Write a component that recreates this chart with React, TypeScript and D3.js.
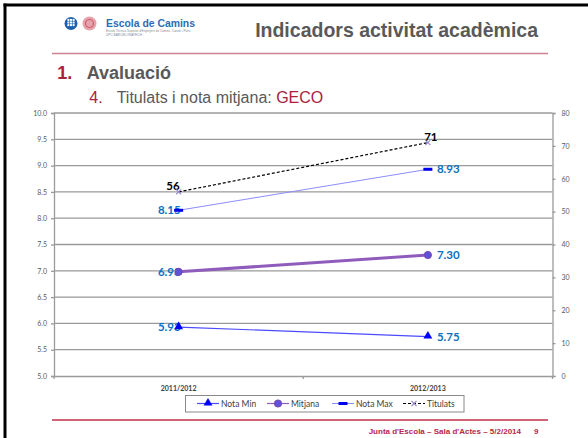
import React, { useEffect, useRef } from "react";
import * as d3 from "d3";

const categories = ["2011/2012", "2012/2013"];
const notaMin = [5.93, 5.75];
const mitjana = [6.98, 7.3];
const notaMax = [8.15, 8.93];
const titulats = [56, 71];
const leftTicks = [5, 5.5, 6, 6.5, 7, 7.5, 8, 8.5, 9, 9.5, 10];
const rightTicks = [0, 10, 20, 30, 40, 50, 60, 70, 80];
const legendNames = ["Nota Min", "Mitjana", "Nota Max", "Titulats"];

const W = 588;
const H = 438;
const CRIMSON = "#a8223e";
const GRAY = "#595959";
const CHART_FONT = "Lato, 'Liberation Sans', sans-serif";

const App = () => {
  const chartRef = useRef<SVGGElement | null>(null);

  useEffect(() => {
    const margin = { top: 113, right: 552.5, bottom: 376, left: 54 };

    // Clear previous content
    d3.select(chartRef.current).selectAll("*").remove();
    const g = d3.select(chartRef.current);

    const x = d3
      .scaleBand()
      .domain(categories)
      .range([margin.left, margin.right]);
    const xc = (c: string) => x(c)! + x.bandwidth() / 2;

    const yL = d3.scaleLinear().domain([5, 10]).range([margin.bottom, margin.top]);
    const yR = d3.scaleLinear().domain([0, 80]).range([margin.bottom, margin.top]);

    const axisColor = "#9a9a9a";

    // Gridlines
    g.selectAll(".grid")
      .data(leftTicks.slice(1))
      .enter()
      .append("line")
      .attr("x1", margin.left)
      .attr("x2", margin.right)
      .attr("y1", (d) => yL(d))
      .attr("y2", (d) => yL(d))
      .attr("stroke", axisColor)
      .attr("stroke-width", 1.3);

    // Left axis
    const left = g
      .append("g")
      .attr("transform", `translate(${margin.left},0)`)
      .call(d3.axisLeft(yL).tickValues(leftTicks).tickSize(3).tickPadding(4).tickFormat(d3.format(".1f")));
    // Right axis
    const right = g
      .append("g")
      .attr("transform", `translate(${margin.right},0)`)
      .call(d3.axisRight(yR).tickValues(rightTicks).tickSize(3).tickPadding(6));
    // Bottom axis
    const bottom = g
      .append("g")
      .attr("transform", `translate(0,${margin.bottom})`)
      .call(d3.axisBottom(x).tickSize(0).tickPadding(10));

    [left, right, bottom].forEach((a) => {
      a.select(".domain").attr("stroke", axisColor).attr("stroke-width", 1.3);
      a.selectAll(".tick line").attr("stroke", axisColor).attr("stroke-width", 1.3);
      a.selectAll("text")
        .attr("fill", GRAY)
        .style("font-family", CHART_FONT)
        .style("font-size", "7px");
    });
    bottom.selectAll("text").attr("fill", "#404040").style("font-weight", "bold");

    // category boundary ticks
    g.selectAll(".btick")
      .data([margin.left, (margin.left + margin.right) / 2, margin.right])
      .enter()
      .append("line")
      .attr("x1", (d) => d)
      .attr("x2", (d) => d)
      .attr("y1", margin.bottom)
      .attr("y2", margin.bottom + 3)
      .attr("stroke", axisColor)
      .attr("stroke-width", 1.3);

    const pts = (vals: number[], y: (v: number) => number) =>
      vals.map((v, i) => [xc(categories[i]), y(v)] as [number, number]);
    const line = d3.line();

    // Lines
    g.append("path")
      .attr("d", line(pts(notaMax, yL)))
      .attr("fill", "none")
      .attr("stroke", "#8c8cff")
      .attr("stroke-width", 1);
    g.append("path")
      .attr("d", line(pts(mitjana, yL)))
      .attr("fill", "none")
      .attr("stroke", "#8f5cbc")
      .attr("stroke-width", 3);
    g.append("path")
      .attr("d", line(pts(notaMin, yL)))
      .attr("fill", "none")
      .attr("stroke", "#4a4aff")
      .attr("stroke-width", 1.2);
    g.append("path")
      .attr("d", line(pts(titulats, yR)))
      .attr("fill", "none")
      .attr("stroke", "#000")
      .attr("stroke-width", 1.2)
      .attr("stroke-dasharray", "3,2");

    // Data labels
    const fmt = d3.format(".2f");
    const labelSeries = [notaMin, mitjana, notaMax];
    labelSeries.forEach((vals) => {
      g.selectAll(null)
        .data(pts(vals, yL))
        .enter()
        .append("text")
        .attr("x", (d, i) => (i === 0 ? d[0] + 2 : d[0] + 9))
        .attr("y", (d) => d[1] + 4)
        .attr("text-anchor", (d, i) => (i === 0 ? "end" : "start"))
        .attr("fill", "#0a70c0")
        .style("font-family", CHART_FONT)
        .style("font-weight", "bold")
        .style("font-size", "11.5px")
        .text((d, i) => fmt(vals[i]));
    });
    g.selectAll(null)
      .data(pts(titulats, yR))
      .enter()
      .append("text")
      .attr("x", (d, i) => (i === 0 ? d[0] + 1 : d[0] + 3))
      .attr("y", (d) => d[1] - 1.5)
      .attr("text-anchor", (d, i) => (i === 0 ? "end" : "middle"))
      .attr("fill", "#000")
      .style("font-family", CHART_FONT)
      .style("font-weight", "bold")
      .style("font-size", "11.5px")
      .text((d, i) => titulats[i]);

    // Markers
    const tri = d3.symbol().type(d3.symbolTriangle).size(34);
    const drawMarkers = (sel: d3.Selection<SVGGElement, unknown, null, undefined>, kind: string, cx: number, cy: number) => {
      if (kind === "Nota Min") {
        sel.append("path").attr("d", tri()).attr("transform", `translate(${cx},${cy - 0.5})`).attr("fill", "#0000ff");
      } else if (kind === "Mitjana") {
        sel.append("circle").attr("cx", cx).attr("cy", cy).attr("r", 3.6).attr("fill", "#5d52d8").attr("stroke", "#7b46b0").attr("stroke-width", 1);
      } else if (kind === "Nota Max") {
        sel.append("rect").attr("x", cx - 4.5).attr("y", cy - 1.5).attr("width", 9).attr("height", 3).attr("fill", "#0000ee");
      } else {
        sel.append("path")
          .attr("d", `M${cx - 2.5},${cy - 2.5}L${cx + 2.5},${cy + 2.5}M${cx - 2.5},${cy + 2.5}L${cx + 2.5},${cy - 2.5}`)
          .attr("stroke", "#9a88cc")
          .attr("stroke-width", 1.1);
      }
    };
    const markerG = g.append("g") as d3.Selection<SVGGElement, unknown, null, undefined>;
    pts(notaMin, yL).forEach((p) => drawMarkers(markerG, "Nota Min", p[0], p[1]));
    pts(mitjana, yL).forEach((p) => drawMarkers(markerG, "Mitjana", p[0], p[1]));
    pts(notaMax, yL).forEach((p) => drawMarkers(markerG, "Nota Max", p[0], p[1]));
    pts(titulats, yR).forEach((p) => drawMarkers(markerG, "Titulats", p[0], p[1]));

    // Legend
    const legend = g.append("g") as d3.Selection<SVGGElement, unknown, null, undefined>;
    legend
      .append("rect")
      .attr("x", 185.5)
      .attr("y", 395.5)
      .attr("width", 278.5)
      .attr("height", 16.5)
      .attr("fill", "#fff")
      .attr("stroke", "#8a8a8a")
      .attr("stroke-width", 1);
    const legendX = [197, 267, 332, 403];
    const lineStyles = [
      { stroke: "#4a4aff", w: 1.2, dash: "" },
      { stroke: "#8f5cbc", w: 1.2, dash: "" },
      { stroke: "#8c8cff", w: 1, dash: "" },
      { stroke: "#000", w: 1.2, dash: "3,2" },
    ];
    const ly = 403.5;
    legendNames.forEach((name, i) => {
      const lx = legendX[i];
      legend
        .append("line")
        .attr("x1", lx)
        .attr("x2", lx + 22)
        .attr("y1", ly)
        .attr("y2", ly)
        .attr("stroke", lineStyles[i].stroke)
        .attr("stroke-width", lineStyles[i].w)
        .attr("stroke-dasharray", lineStyles[i].dash || null);
      drawMarkers(legend, name, lx + 11, ly);
      legend
        .append("text")
        .attr("x", lx + 24)
        .attr("y", ly + 3)
        .attr("fill", "#404040")
        .style("font-family", CHART_FONT)
        .style("font-size", "8.5px")
        .text(name);
    });
  }, []);

  return (
    <svg
      width={W}
      height={H}
      style={{ position: "absolute", left: 0, top: 0, background: "#fff" }}
      fontFamily="'Liberation Sans', Arial, sans-serif"
    >
      <rect x={0} y={0} width={W} height={H} fill="#fff" />
      {/* slide frame */}
      <rect x={3.5} y={3.5} width={W - 3.5} height={3} fill="#000" />
      <rect x={3.5} y={3.5} width={3} height={H - 3.5} fill="#000" />

      {/* logo */}
      <circle cx={71} cy={23.5} r={6.5} fill="#1d5fae" />
      {[-2.6, 0, 2.6].map((dx) =>
        [-2.6, 0, 2.6].map((dy) => (
          <rect key={`${dx}_${dy}`} x={71 + dx - 1} y={22.5 + dy - 1} width={2} height={2} fill="#fff" />
        ))
      )}
      <circle cx={89.5} cy={23.5} r={7} fill="#e7a3ab" />
      <circle cx={89.5} cy={23.5} r={4} fill="none" stroke="#c9606e" strokeWidth={1.2} />
      <text x={106} y={27} fontSize={10.4} fontWeight="bold" fill="#2b6cb5">
        Escola de Camins
      </text>
      <text x={106} y={31.5} fontSize={3} fill="#8a8a8a">
        Escola Tècnica Superior d'Enginyers de Camins, Canals i Ports
      </text>
      <text x={106} y={35.5} fontSize={3.2} fill="#7a8aa0">
        UPC BARCELONATECH
      </text>

      <text x={538} y={36.5} textAnchor="end" fontSize={19.5} fontWeight="bold" fill={GRAY}>
        Indicadors activitat acadèmica
      </text>
      <line x1={52} x2={548} y1={53.5} y2={53.5} stroke="#d0808e" strokeWidth={1.5} />

      <text x={57.3} y={78.7} fontSize={18} fontWeight="bold" fill={CRIMSON}>
        1.
      </text>
      <text x={86.7} y={78.7} fontSize={18} fontWeight="bold" fill={GRAY}>
        Avaluació
      </text>
      <text x={89.3} y={103} fontSize={16} fill={CRIMSON}>
        4.
      </text>
      <text x={116.7} y={103} fontSize={16} fill={GRAY}>
        Titulats i nota mitjana: <tspan fill={CRIMSON}>GECO</tspan>
      </text>

      <g ref={chartRef}></g>

      <line x1={52} x2={548} y1={420} y2={420} stroke="#c0304a" strokeWidth={1.5} />
      <text x={521} y={434} textAnchor="end" fontSize={8} fontWeight="bold" fill="#b8284a">
        Junta d'Escola – Sala d'Actes – 5/2/2014
      </text>
      <text x={534} y={434} fontSize={8} fontWeight="bold" fill="#b8284a">
        9
      </text>
    </svg>
  );
};

export default App;
